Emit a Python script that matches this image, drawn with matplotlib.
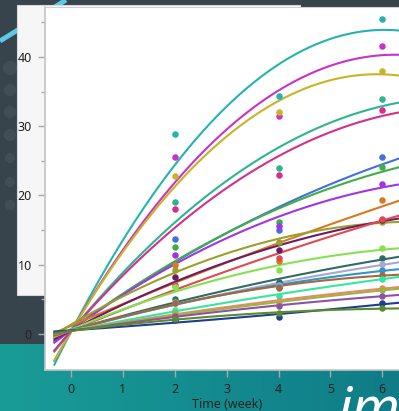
import numpy as np
import matplotlib.pyplot as plt
from matplotlib.colors import LinearSegmentedColormap
from matplotlib.patches import Rectangle, Circle

# weekly measurements per subject (weeks 0, 2, 4, 6); week 0 is the baseline
weeks = [0, 2, 4, 6]

series_colors = [
    "#24b3ae", "#c832c8", "#c8b424", "#2db58f", "#d2308e",
    "#4470dc", "#3fae48", "#a235e0", "#d67a22", "#9aa02c",
    "#6e1c62", "#df4a52", "#84e252", "#2f6c66", "#a4a8d2",
    "#2f97c8", "#a4683c", "#34e6a0", "#e8886a", "#9cb440",
    "#9050a6", "#213e8e", "#5a8c2e",
]

series_values = [
    [-1.2, 28.9, 34.4, 45.4],
    [-0.9, 25.6, 31.4, 41.5],
    [-0.2, 22.8, 32.1, 38.0],
    [-0.6, 19.1, 23.9, 33.9],
    [-0.5, 18.1, 22.9, 32.4],
    [-0.4, 13.7, 15.0, 25.6],
    [-0.1, 12.5, 16.1, 24.1],
    [0.1, 11.4, 15.6, 21.6],
    [0.3, 10.0, 10.5, 19.3],
    [1.2, 9.3, 13.3, 16.2],
    [0.3, 8.2, 12.1, 16.5],
    [0.3, 7.0, 11.0, 16.6],
    [0.4, 6.8, 9.2, 12.4],
    [0.4, 5.0, 7.5, 10.9],
    [0.4, 4.6, 7.0, 10.1],
    [0.4, 4.5, 6.8, 9.2],
    [0.4, 4.5, 6.7, 8.5],
    [0.4, 3.5, 5.5, 8.0],
    [0.4, 3.0, 4.7, 6.6],
    [0.4, 3.0, 4.3, 6.4],
    [0.4, 2.6, 4.0, 5.5],
    [0.4, 2.0, 2.5, 4.4],
    [0.4, 2.2, 3.0, 3.7],
]

y_ticks = [0, 10, 20, 30, 40]
x_ticks = [0, 1, 2, 3, 4, 5, 6]

W, H = 399, 411
fig = plt.figure(figsize=(W / 100, H / 100), dpi=100)
plt.rcParams['font.family'] = ['Noto Sans', 'DejaVu Sans']

# slide backdrop, drawn in pixel units
bg = fig.add_axes([0, 0, 1, 1], zorder=-5)
bg.add_patch(Rectangle((0, 0), W, H, color="#37444c", zorder=0))
for cx, cy, r in [(10, 68, 7), (10, 90, 6), (10, 112, 6), (10, 135, 6), (10, 158, 5), (10, 182, 5), (10, 205, 5)]:
    bg.add_patch(Circle((cx, cy), r, color="white", alpha=0.06, lw=0, zorder=1))
band = LinearSegmentedColormap.from_list("band", ["#199c98", "#0f7c87"])
bg.imshow(np.linspace(0, 1, 256).reshape(1, -1), extent=[0, W, H, 344],
          aspect='auto', cmap=band, zorder=2)
bg.plot([0, 66], [41, 0], color="#5cc9e6", lw=3.5, solid_capstyle='butt', zorder=3)
bg.add_patch(Rectangle((17, 5), 283, 290, facecolor="#f6f6f6", edgecolor="#d8d8d8", lw=0.8, zorder=4))
bg.text(337, 426, "im", color="white", fontsize=40, fontstyle='italic', fontweight='bold',
        ha='left', va='baseline', zorder=5)
bg.set_xlim(0, W)
bg.set_ylim(H, 0)
bg.axis('off')

ax = fig.add_axes([45 / W, 1 - 370 / H, 1 - 45 / W, (370 - 7) / H])
ax.set_facecolor("white")

# quadratic trend per subject, points shown for the follow-up weeks
xs = np.linspace(-0.32, 6.6, 200)
for color, vals in zip(series_colors, series_values):
    coef = np.polyfit(weeks, vals, 2)
    ax.plot(xs, np.polyval(coef, xs), color=color, lw=1.5, zorder=2)
for color, vals in zip(series_colors, series_values):
    ax.scatter(weeks[1:], vals[1:], color=color, s=22, lw=0, zorder=3)

ax.set_xlim(-0.5, 6.32)
ax.set_ylim(-5.2, 47.2)
ax.set_xticks(x_ticks)
ax.set_yticks(y_ticks)
ax.set_yticks([5, 15, 25, 35, 45], minor=True)
ax.tick_params(axis='both', colors="#a8a8a8", labelcolor="#222222", labelsize=9,
               length=5, width=1, pad=4.5)
ax.tick_params(axis='y', which='minor', colors="#a8a8a8", length=3, width=1)
for side in ['left', 'bottom']:
    ax.spines[side].set_color("#c4c4c4")
    ax.spines[side].set_linewidth(1.2)
ax.spines['top'].set_color("#d0d0d0")
ax.spines['top'].set_linewidth(0.8)
ax.spines['right'].set_visible(False)

fig.text(227 / W, 1 - 404 / H, "Time (week)", ha='center', va='center', fontsize=9, color="#222222")

fig.savefig("out.png", dpi=100)
